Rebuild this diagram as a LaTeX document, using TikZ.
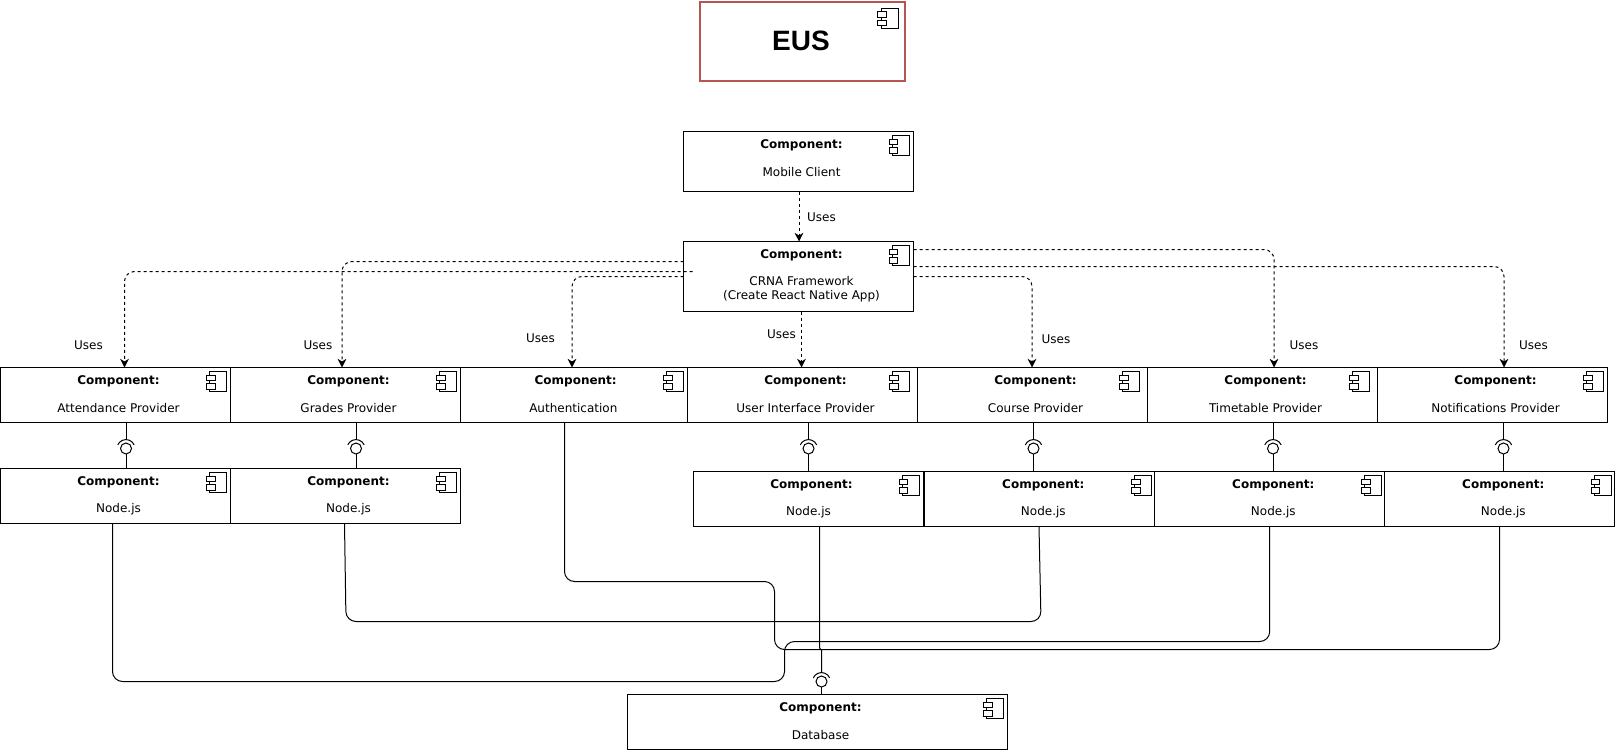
\documentclass[tikz,border=0pt]{standalone}
\usepackage{fontspec}
\setmainfont{DejaVu Sans}
\newfontfamily\euslabel{Liberation Sans}
\usetikzlibrary{arrows.meta,calc}
\tikzset{
  compbox/.style={draw=black,line width=.75pt,fill=white,rectangle,inner sep=0pt,outer sep=0pt,anchor=north west},
  icon/.style={draw=black,line width=.75pt,fill=white},
  title/.style={font=\bfseries\fontsize{9}{11}\selectfont,inner sep=0pt,text=black},
  body/.style={font=\fontsize{9}{11}\selectfont,inner sep=0pt,align=center,text=black},
  uselabel/.style={font=\fontsize{9}{11}\selectfont,inner sep=0pt,text=black},
  uses/.style={draw=black,line width=.75pt,dash pattern=on 2.25pt off 2.25pt,rounded corners=7.5pt,-{Stealth[length=6.5pt,width=6.5pt,inset=2pt]}},
  wire/.style={draw=black,line width=.75pt,rounded corners=7.5pt},
  ball/.style={draw=black,line width=.75pt,circle,minimum size=8.25pt,inner sep=0pt,outer sep=0pt,fill=white},
}
\def\bodyy{41}
% name, x0, y0, x1, y1, text, icon offset, title dx, label dx
\newcommand{\compo}[9]{%
  \node[compbox,minimum width={(#4-#2)*0.75pt},minimum height={(#5-#3)*0.75pt}] (#1) at (#2,#3) {};
  \node[title] (#1-t) at ($(#1.north)+(#8,13.5)$) {Component:};
  \node[body] (#1-l) at ($(#1.north)+(#9,\bodyy)$) {#6};
  \begin{scope}[shift={(#1.north east)}]
    \draw[icon] (-#7-16.7,3.7) rectangle (-#7,24);
    \draw[icon] (-#7-20,7.7) rectangle (-#7-11.5,13.4);
    \draw[icon] (-#7-20,16) rectangle (-#7-11.5,21.7);
  \end{scope}}
% name, upper node, lower node, x, y
\newcommand{\socket}[5]{%
  \node[ball] (#1) at (#4,#5) {};
  \draw[line width=.75pt] ([shift={(0,-9)}]#1.center) -- (#2.south -| #1);
  \draw[line width=.75pt] (#1.south) -- (#3.north -| #1);
  \draw[line width=.75pt] ([shift={(8.2,-3.6)}]#1.center) arc[start angle=24,end angle=156,radius=6.75pt];}
\begin{document}
\begin{tikzpicture}[x=.75pt,y=-.75pt]
\useasboundingbox (0,0) rectangle (1616,750);
% EUS
\node[compbox,draw=none,fill=none,minimum width={205*0.75pt},minimum height={79*0.75pt}] (eus) at (700,2) {};
\draw[draw={rgb,255:red,184;green,84;blue,80},line width=1.5pt] (eus.north west) rectangle (eus.south east);
\node[inner sep=0pt,font=\euslabel\bfseries\fontsize{21}{25}\selectfont] (eus-l) at (801,40.5) {EUS};
\begin{scope}[shift={(eus.north east)}]
  \draw[icon] (-23.4,6.3) rectangle (-6.7,26.6);
  \draw[icon] (-27.3,9.7) rectangle (-18.3,15.3);
  \draw[icon] (-27.3,18) rectangle (-18.3,23.6);
\end{scope}
\compo{mobile}{683.5}{131.5}{913.5}{191.5}{Mobile Client}{4.5}{3}{3}
\def\bodyy{47.7}
\compo{crna}{683.5}{241.5}{913.5}{311.5}{CRNA Framework\\(Create React Native App)}{4.5}{3}{3}
\def\bodyy{41}
\compo{att}{0.5}{367.5}{230.5}{422.5}{Attendance Provider}{4}{3}{3}
\compo{gra}{230.5}{367.5}{460.5}{422.5}{Grades Provider}{4}{3}{3}
\compo{auth}{460.5}{367.5}{687.5}{422.5}{Authentication}{4}{1.7}{-0.7}
\compo{ui}{687.5}{367.5}{917.5}{422.5}{User Interface Provider}{8}{3}{3}
\compo{cou}{917.5}{367.5}{1147.5}{422.5}{Course Provider}{8}{3}{3}
\compo{tim}{1147.5}{367.5}{1377.5}{422.5}{Timetable Provider}{8}{3}{3}
\compo{noti}{1377.5}{367.5}{1607.5}{422.5}{Notifications Provider}{4}{3}{3}
\compo{nj1}{0.5}{468.5}{230.5}{523.5}{Node.js}{4}{3}{3}
\compo{nj2}{230.5}{468.5}{460.5}{523.5}{Node.js}{4}{3}{3}
\compo{nj3}{693.5}{471.5}{923.5}{526.5}{Node.js}{4.5}{3}{0}
\compo{nj4}{924.5}{471.5}{1154.5}{526.5}{Node.js}{3}{3.8}{3.8}
\compo{nj5}{1154.5}{471.5}{1384.5}{526.5}{Node.js}{3}{3.8}{3.8}
\compo{nj6}{1384.5}{471.5}{1614.5}{526.5}{Node.js}{3.5}{3.8}{3.8}
\compo{db}{627.5}{694.5}{1007.5}{749.5}{Database}{4}{3}{3}
% dependency arrows
\draw[uses] (mobile.south -| 799,0) -- (crna.north -| 799,0);
\draw[uses] (crna.south -| 801.5,0) -- (ui.north -| 801.5,0);
\draw[uses] (crna.west |- 0,271.5) ++(9,0) -- (124.5,271.5) -- (att.north -| 124.5,0);
\draw[uses] (crna.west |- 0,261.5) -- (342,261.5) -- (gra.north -| 342,0);
\draw[uses] (crna.west |- 0,276.5) -- (572,276.5) -- (auth.north -| 572,0);
\draw[uses] (crna.east |- 0,276.5) -- (1032,276.5) -- (cou.north -| 1032,0);
\draw[uses] (crna.east |- 0,249.5) -- (1274,249.5) -- (tim.north -| 1274,0);
\draw[uses] (crna.east |- 0,266.5) -- (1504,266.5) -- (noti.north -| 1504,0);
% Uses labels
\node[uselabel] (u1) at (821.5,217.5) {Uses};
\node[uselabel] (u2) at (88.5,345.5) {Uses};
\node[uselabel] (u3) at (318,345.5) {Uses};
\node[uselabel] (u4) at (540.5,338.5) {Uses};
\node[uselabel] (u5) at (781.5,334.5) {Uses};
\node[uselabel] (u6) at (1056,339.5) {Uses};
\node[uselabel] (u7) at (1304,345.5) {Uses};
\node[uselabel] (u8) at (1533.5,345.5) {Uses};
% wires
\draw[wire] (nj1.south -| 112.5,0) -- (112.5,681.5) -- (784.5,681.5) -- (784.5,641.5) -- (1269.7,641.5) -- (nj5.south -| 1269.7,0);
\draw[wire] (nj2.south -| 344.5,0) -- (346,621.5) -- (1041,621.5) -- (nj4.south -| 1039,0);
\draw[wire] (auth.south -| 564.5,0) -- (564.5,581.5) -- (774.5,581.5) -- (774.5,649.5) -- (1499.5,649.5) -- (nj6.south -| 1499.5,0);
\draw[line width=.75pt] (nj3.south -| 819.5,0) -- (819.5,648) -- (821.5,650) -- (821.5,672);
% sockets
\socket{s1}{att}{nj1}{126}{448.5}
\socket{s2}{gra}{nj2}{356}{448.5}
\socket{s3}{ui}{nj3}{808.5}{448.5}
\socket{s4}{cou}{nj4}{1033.5}{448.5}
\socket{s5}{tim}{nj5}{1273}{448.5}
\socket{s6}{noti}{nj6}{1503.5}{448.5}
\node[ball] (s7) at (821.5,681.5) {};
\draw[line width=.75pt] (s7.south) -- (db.north -| s7);
\draw[line width=.75pt] ([shift={(8.2,-3.6)}]s7.center) arc[start angle=24,end angle=156,radius=6.75pt];
\end{tikzpicture}
\end{document}
